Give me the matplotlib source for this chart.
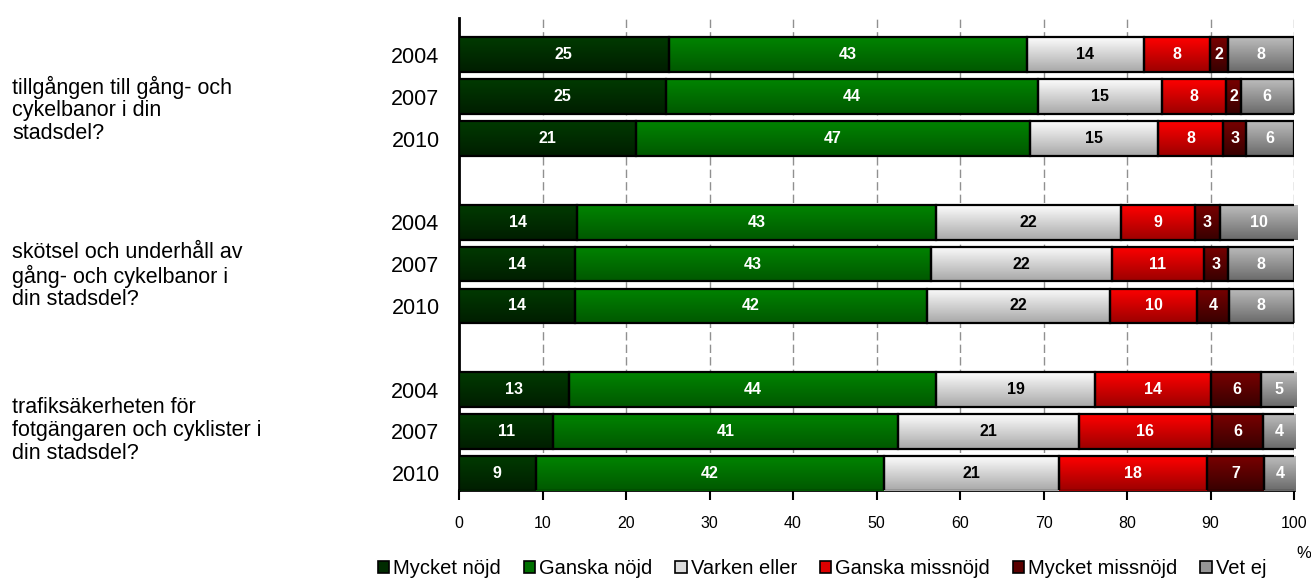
import numpy as np
import matplotlib
matplotlib.use("Agg")
import matplotlib.pyplot as plt
from matplotlib.patches import Rectangle
from matplotlib.colors import LinearSegmentedColormap
from matplotlib.transforms import blended_transform_factory

plt.rcParams['font.family'] = ['Liberation Sans', 'DejaVu Sans']

# ---------------- data ----------------
questions = [
    "tillgången till gång- och\ncykelbanor i din\nstadsdel?",
    "skötsel och underhåll av\ngång- och cykelbanor i\ndin stadsdel?",
    "trafiksäkerheten för\nfotgängaren och cyklister i\ndin stadsdel?",
]
years = ["2004", "2007", "2010"]
series_names = ["Mycket nöjd", "Ganska nöjd", "Varken eller",
                "Ganska missnöjd", "Mycket missnöjd", "Vet ej"]

# bar lengths (estimated) per row: q1 2004, 2007, 2010, q2 ..., q3 ...
mycket_nojd     = [25.1, 24.8, 21.2, 14.1, 13.9, 13.9, 13.2, 11.3, 9.2]
ganska_nojd     = [42.9, 44.5, 47.2, 43.0, 42.6, 42.1, 43.9, 41.3, 41.7]
varken_eller    = [14.0, 14.9, 15.3, 22.2, 21.7, 22.0, 19.1, 21.6, 21.0]
ganska_missnojd = [7.9, 7.7, 7.8, 8.8, 11.0, 10.4, 13.9, 16.0, 17.7]
mycket_missnojd = [2.2, 1.7, 2.8, 3.0, 2.9, 3.8, 6.0, 6.1, 6.8]
vet_ej          = [7.9, 6.4, 5.7, 9.3, 7.9, 7.8, 4.2, 3.9, 3.8]

# printed labels
lab_mycket_nojd     = [25, 25, 21, 14, 14, 14, 13, 11, 9]
lab_ganska_nojd     = [43, 44, 47, 43, 43, 42, 44, 41, 42]
lab_varken_eller    = [14, 15, 15, 22, 22, 22, 19, 21, 21]
lab_ganska_missnojd = [8, 8, 8, 9, 11, 10, 14, 16, 18]
lab_mycket_missnojd = [2, 2, 3, 3, 3, 4, 6, 6, 7]
lab_vet_ej          = [8, 6, 6, 10, 8, 8, 5, 4, 4]

x_ticks = [0, 10, 20, 30, 40, 50, 60, 70, 80, 90, 100]

series = [mycket_nojd, ganska_nojd, varken_eller,
          ganska_missnojd, mycket_missnojd, vet_ej]
labels = [lab_mycket_nojd, lab_ganska_nojd, lab_varken_eller,
          lab_ganska_missnojd, lab_mycket_missnojd, lab_vet_ej]

# gradient colours (top, bottom)
grads = [("#003a00", "#001e00"),
         ("#008400", "#005800"),
         ("#fcfcfc", "#a8a8a8"),
         ("#ff0000", "#9c0000"),
         ("#780000", "#380000"),
         ("#bcbcbc", "#6a6a6a")]
mids = ["#002b00", "#007000", "#dcdcdc", "#dd0000", "#5a0000", "#969696"]
text_colors = ["white", "white", "black", "white", "white", "white"]

# ---------------- layout ----------------
W, H = 1311, 578
fig = plt.figure(figsize=(W / 100, H / 100), dpi=100)
ax = fig.add_axes([459 / W, 1 - 490 / H, (1294 - 459) / W, (490 - 18) / H])

# row positions: 3 rows per group with a blank slot between groups
positions = []
for g in range(len(questions)):
    for r in range(len(years)):
        positions.append(g * 4 + r)
positions = np.array(positions, dtype=float)
bar_h = 0.83

left = np.zeros(len(positions))
for i, vals in enumerate(series):
    vals = np.array(vals)
    bars = ax.barh(positions, vals, left=left, height=bar_h,
                   color=mids[i], edgecolor="none", zorder=2)
    cmap = LinearSegmentedColormap.from_list("g%d" % i, [grads[i][0], grads[i][1]])
    grad = np.linspace(0, 1, 64).reshape(-1, 1)
    for p in bars.patches:
        x0, y0 = p.get_x(), p.get_y()
        w, h = p.get_width(), p.get_height()
        im = ax.imshow(grad, cmap=cmap, aspect="auto",
                       extent=(x0, x0 + w, y0 + h, y0), origin="upper",
                       zorder=3, interpolation="bilinear")
        im.set_clip_path(p)
    ax.barh(positions, vals, left=left, height=bar_h,
            color="none", edgecolor="black", linewidth=1.6, zorder=4)
    for j, (v, lab) in enumerate(zip(vals, labels[i])):
        ax.text(left[j] + v / 2, positions[j], str(lab),
                ha="center", va="center", fontsize=11.5, fontweight="bold",
                color=text_colors[i], zorder=5)
    left = left + vals

ax.set_xlim(0, 100)
ax.set_ylim(10.40, -0.88)

ax.set_yticks(positions)
ax.set_yticklabels(years * len(questions), fontsize=15.5)
ax.tick_params(axis="y", length=0, pad=14)
ax.set_xticks(x_ticks)
ax.set_xticklabels([str(t) for t in x_ticks], fontsize=11.5)
ax.tick_params(axis="x", length=7, width=1.5, direction="out", pad=12,
               color="black")

for s in ["top", "right"]:
    ax.spines[s].set_visible(False)
ax.spines["left"].set_linewidth(2)
ax.spines["bottom"].set_linewidth(2)

for t in x_ticks[1:]:
    ax.axvline(t, color="#909090", linestyle=(0, (6, 3)), linewidth=1.0, zorder=1)

# question labels on the left
trans = blended_transform_factory(fig.transFigure, ax.transData)
q_y = [1.31, 5.29, 8.98]
for q, yy in zip(questions, q_y):
    fig.text(12 / W, yy, q, transform=trans, ha="left", va="center",
             fontsize=15.5, linespacing=1.1)

# legend
handles = []
for i in range(len(series_names)):
    handles.append(Rectangle((0, 0), 1, 1, facecolor=mids[i],
                             edgecolor="black", linewidth=1.2))
leg = fig.legend(handles, series_names, loc="center", ncol=6,
                 bbox_to_anchor=(822 / W, 1 - 569 / H), frameon=False,
                 handlelength=0.55, handleheight=0.55,
                 handletextpad=0.2, columnspacing=1.15,
                 prop={'family': ['Liberation Sans'], 'size': 14.5})
fig.text(1304 / W, 1 - 554 / H, "%", ha="center", va="center", fontsize=12)

fig.savefig("out.png", dpi=100)
